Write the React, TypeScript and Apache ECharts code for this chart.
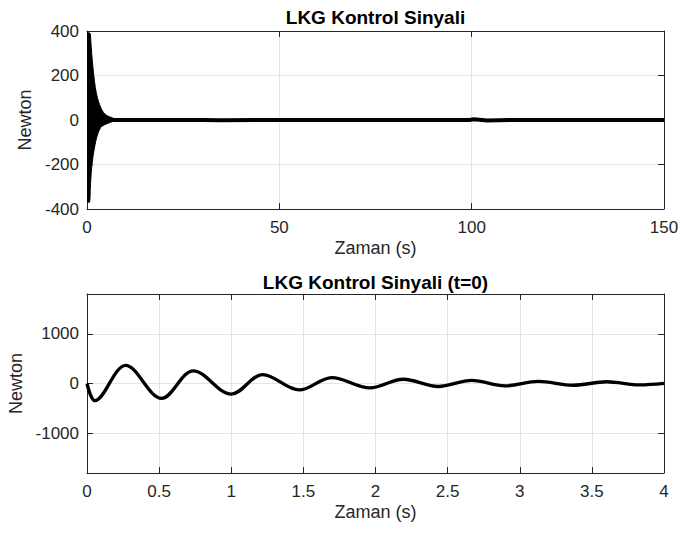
import React, { useEffect, useRef } from 'react';
import * as echarts from 'echarts';

// ---- Top chart: full 150 s control signal ----
// Envelope of the dense oscillation burst near t=0
const upperTimes = [0, 0.6, 0.87, 1.04, 1.39, 1.73, 2.17, 2.69, 3.38, 4.25, 5.29, 6.5, 8];
const upperValues = [392, 392, 386, 341, 266, 206, 146, 101, 64, 34, 19, 10, 0];
const lowerTimes = [0, 0.61, 0.87, 1.13, 1.65, 2.51, 3.55, 4.85, 6.5, 8];
const lowerValues = [-368, -370, -304, -229, -154, -79, -34, -19, -8, 0];
// Settled part of the signal
const steadyTimes = [0, 20, 30, 35, 45, 60, 80, 99.5, 100.5, 102, 104, 107, 110, 130, 150];
const steadyValues = [0, 0, 0, -1, 0, 0, 0, 0, 3, 1, -2, -1, 0, 0, 0];

// ---- Bottom chart: zoom on first 4 s (start, extrema, end) ----
const zoomTimes = [
  0, 0.055, 0.268, 0.517, 0.737, 1.0, 1.218, 1.472, 1.696, 1.962, 2.193,
  2.435, 2.667, 2.898, 3.129, 3.37, 3.603, 3.834, 4.0,
];
const zoomValues = [
  0, -345, 365, -300, 255, -215, 180, -130, 120, -88, 85,
  -60, 62, -48, 42, -35, 35, -28, 2,
];

const titles = ['LKG Kontrol Sinyali', 'LKG Kontrol Sinyali (t=0)'];
const xName = 'Zaman (s)';
const yName = 'Newton';
const bottomYTicks = [-1000, 0, 1000];

const FONT = '"Liberation Sans", Arial, Helvetica, sans-serif';
const AX = '#262626';
const GRID = '#e4e4e4';

function pair(t: number[], v: number[]) {
  return t.map((x, i) => [x, v[i]]);
}

export default function App() {
  const ref = useRef<HTMLDivElement>(null);
  useEffect(() => {
    if (!ref.current) return;
    const chart = echarts.init(ref.current, undefined, { renderer: 'svg' });
    const axisLine = { show: true, onZero: false, lineStyle: { color: AX, width: 1 } };
    const tick = { show: true, inside: true, length: 6, lineStyle: { color: AX, width: 1 } };
    const fmt = (v: number) => String(v);
    const label = { color: AX, fontSize: 17, fontFamily: FONT, formatter: fmt };
    const nameStyle = { color: AX, fontSize: 18, fontFamily: FONT };
    const split = { show: true, lineStyle: { color: GRID, width: 1 } };

    const mkX = (gi: number, min: number, max: number, interval: number) => [
      {
        type: 'value', gridIndex: gi, min, max, interval, position: 'bottom',
        axisLine, axisTick: tick, axisLabel: { ...label, margin: 10 },
        splitLine: split, name: xName, nameLocation: 'middle', nameGap: 30,
        nameTextStyle: nameStyle,
      },
      {
        type: 'value', gridIndex: gi, min, max, interval, position: 'top',
        axisLine, axisTick: tick, axisLabel: { show: false }, splitLine: { show: false },
      },
    ];

    const option: any = {
      animation: false,
      backgroundColor: '#ffffff',
      grid: [
        { left: 87, right: 17, top: 31, height: 178, containLabel: false, outerBoundsMode: 'none' },
        { left: 87, right: 17, top: 294, height: 179, containLabel: false, outerBoundsMode: 'none' },
      ],
      xAxis: [...mkX(0, 0, 150, 50), ...mkX(1, 0, 4, 0.5)],
      yAxis: [
        {
          type: 'value', gridIndex: 0, min: -400, max: 400, interval: 200, position: 'left',
          axisLine, axisTick: tick, axisLabel: { ...label, margin: 8 }, splitLine: split,
          name: yName, nameLocation: 'middle', nameGap: 50, nameRotate: 90, nameTextStyle: nameStyle,
        },
        {
          type: 'value', gridIndex: 0, min: -400, max: 400, interval: 200, position: 'right',
          axisLine, axisTick: tick, axisLabel: { show: false }, splitLine: { show: false },
        },
        {
          type: 'value', gridIndex: 1, min: -1800, max: 1800, position: 'left',
          axisLine,
          axisTick: { ...tick, customValues: bottomYTicks },
          axisLabel: { ...label, margin: 8, customValues: bottomYTicks },
          splitLine: split,
          name: yName, nameLocation: 'middle', nameGap: 60, nameRotate: 90, nameTextStyle: nameStyle,
        },
        {
          type: 'value', gridIndex: 1, min: -1800, max: 1800, position: 'right',
          axisLine,
          axisTick: { ...tick, customValues: bottomYTicks },
          axisLabel: { show: false, customValues: bottomYTicks },
          splitLine: { show: false },
        },
      ],
      graphic: [
        {
          type: 'text', x: 375.5, y: 17,
          style: { text: titles[0], font: `bold 19px ${FONT}`, fill: '#000', align: 'center', verticalAlign: 'middle' },
        },
        {
          type: 'text', x: 375.5, y: 282,
          style: { text: titles[1], font: `bold 19px ${FONT}`, fill: '#000', align: 'center', verticalAlign: 'middle' },
        },
      ],
      series: [
        {
          type: 'line', xAxisIndex: 0, yAxisIndex: 0, data: pair(upperTimes, upperValues),
          showSymbol: false, symbol: 'none', smooth: 0.3,
          lineStyle: { color: '#000', width: 1 }, areaStyle: { color: '#000', opacity: 1, origin: 0 },
        },
        {
          type: 'line', xAxisIndex: 0, yAxisIndex: 0, data: pair(lowerTimes, lowerValues),
          showSymbol: false, symbol: 'none', smooth: 0.3,
          lineStyle: { color: '#000', width: 1 }, areaStyle: { color: '#000', opacity: 1, origin: 0 },
        },
        {
          type: 'line', xAxisIndex: 0, yAxisIndex: 0, data: pair(steadyTimes, steadyValues),
          showSymbol: false, symbol: 'none', lineStyle: { color: '#000', width: 4 },
        },
        {
          type: 'line', xAxisIndex: 2, yAxisIndex: 2, data: pair(zoomTimes, zoomValues),
          showSymbol: false, symbol: 'none', smooth: 0.35, lineStyle: { color: '#000', width: 3.3 },
        },
      ],
    };
    chart.setOption(option);
    return () => chart.dispose();
  }, []);
  return (
    <div
      ref={ref}
      style={{ position: 'fixed', left: 0, top: 0, width: 681, height: 533, background: '#fff' }}
    />
  );
}
